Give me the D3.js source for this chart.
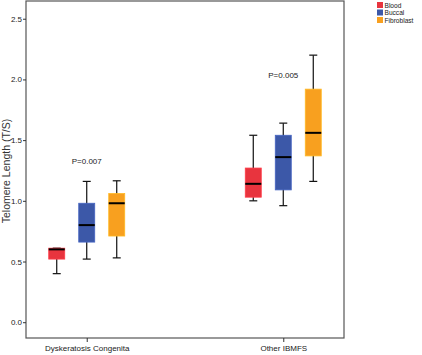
<!DOCTYPE html>
<html>
<head>
<meta charset="utf-8">
<script src="https://cdn.jsdelivr.net/npm/d3@7"></script>
<style>
  body { margin: 0; background: #fff; }
  text { font-family: "Liberation Sans", Arial, sans-serif; }
</style>
</head>
<body>
<div id="chart"></div>
<script>
// groups and series
const groups = ["Dyskeratosis Congenita", "Other IBMFS"];
const tissues = ["Blood", "Buccal", "Fibroblast"];
const colors = ["#e8343e", "#3c58a8", "#f8a01f"];

// box stats per group, order Blood, Buccal, Fibroblast: [min, q1, median, q3, max]
const dcBoxes = [
    [0.40, 0.52, 0.60, 0.61, 0.61],
    [0.52, 0.66, 0.80, 0.98, 1.16],
    [0.53, 0.71, 0.98, 1.06, 1.165]
];
const otherBoxes = [
    [1.00, 1.03, 1.14, 1.27, 1.54],
    [0.96, 1.09, 1.36, 1.54, 1.64],
    [1.16, 1.37, 1.56, 1.92, 2.20]
];
const pLabels = ["P=0.007", "P=0.005"];
const pLevels = [1.30, 2.01];
const yTicks = [0.0, 0.5, 1.0, 1.5, 2.0, 2.5];

let margin = {top: 1, right: 78, bottom: 17, left: 26},
    width = 344 - margin.left,
    height = 338 - margin.top;

const svg = d3.select("#chart").append("svg")
    .attr("width", 422)
    .attr("height", 355);

const g = svg.append("g")
    .attr("transform", `translate(${margin.left},${margin.top})`);

const xScale = d3.scalePoint().domain(groups).range([0, width]).padding(0.309);
const offScale = d3.scalePoint().domain(tissues).range([-30, 30]);
const yScale = d3.scaleLinear().domain([-0.13, 2.646]).range([height, 0]);

// frame
g.append("rect")
    .attr("x", 0).attr("y", 0)
    .attr("width", width).attr("height", height)
    .attr("fill", "none")
    .attr("stroke", "#555")
    .attr("stroke-width", 1.2);

// y axis
const yAxis = d3.axisLeft(yScale).tickValues(yTicks).tickFormat(d3.format(".1f")).tickSize(3).tickPadding(1);
const ya = g.append("g").call(yAxis);
ya.select(".domain").remove();
ya.selectAll("line").attr("stroke", "#333");
ya.selectAll("text").attr("font-size", 8).attr("fill", "#222");

// x axis
const xAxis = d3.axisBottom(xScale).tickSize(4).tickPadding(3);
const xa = g.append("g").attr("transform", `translate(0,${height})`).call(xAxis);
xa.select(".domain").remove();
xa.selectAll("line").attr("stroke", "#333");
xa.selectAll("text").attr("font-size", 8).attr("fill", "#222");

// y title
svg.append("text")
    .attr("transform", "rotate(-90)")
    .attr("x", -171)
    .attr("y", 10)
    .attr("text-anchor", "middle")
    .attr("font-size", 10.5)
    .attr("fill", "#333")
    .text("Telomere Length (T/S)");

// boxes
const boxData = [];
[dcBoxes, otherBoxes].forEach((arr, gi) => {
    arr.forEach((s, ti) => {
        boxData.push({group: groups[gi], tissue: tissues[ti], color: colors[ti], s: s});
    });
});

const bw = 16;
const boxes = g.selectAll(".box").data(boxData).join("g")
    .attr("class", "box")
    .attr("transform", d => `translate(${xScale(d.group) + offScale(d.tissue)},0)`);

boxes.append("line")
    .attr("x1", 0).attr("x2", 0)
    .attr("y1", d => yScale(d.s[0])).attr("y2", d => yScale(d.s[4]))
    .attr("stroke", "#111").attr("stroke-width", 1.2);
boxes.selectAll(".cap").data(d => [d.s[0], d.s[4]]).join("line")
    .attr("class", "cap")
    .attr("x1", -4).attr("x2", 4)
    .attr("y1", v => yScale(v)).attr("y2", v => yScale(v))
    .attr("stroke", "#111").attr("stroke-width", 1.2);
boxes.append("rect")
    .attr("x", -bw / 2)
    .attr("width", bw)
    .attr("y", d => yScale(d.s[3]))
    .attr("height", d => yScale(d.s[1]) - yScale(d.s[3]))
    .attr("fill", d => d.color)
    .attr("stroke", d => d3.color(d.color).brighter(0.4))
    .attr("stroke-width", 0.8);
boxes.append("line")
    .attr("x1", -bw / 2).attr("x2", bw / 2)
    .attr("y1", d => yScale(d.s[2])).attr("y2", d => yScale(d.s[2]))
    .attr("stroke", "#000").attr("stroke-width", 2);

// p-values
g.selectAll(".pval").data(groups).join("text")
    .attr("class", "pval")
    .attr("x", d => xScale(d))
    .attr("y", (d, i) => yScale(pLevels[i]))
    .attr("text-anchor", "middle")
    .attr("font-size", 8)
    .attr("fill", "#222")
    .text((d, i) => pLabels[i]);

// legend
const legend = svg.append("g").attr("transform", "translate(377,2)");
tissues.forEach((t, i) => {
    legend.append("rect").attr("x", 0).attr("y", i * 7.5).attr("width", 6).attr("height", 6).attr("fill", colors[i]);
    legend.append("text").attr("x", 7.5).attr("y", i * 7.5 + 5.6)
        .attr("font-size", 6.6).attr("fill", "#222").text(t);
});
</script>
</body>
</html>
